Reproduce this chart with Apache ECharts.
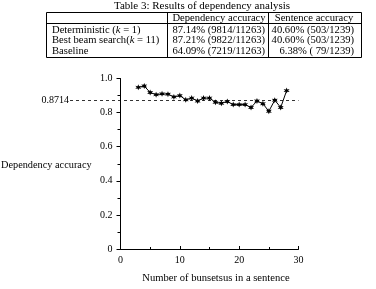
<!DOCTYPE html>
<html>
<head>
<meta charset="utf-8">
<script src="https://cdn.jsdelivr.net/npm/echarts@6/dist/echarts.min.js"></script>
<style>
  html, body { margin: 0; padding: 0; background: #fff; }
  #chart { width: 376px; height: 289px; }
</style>
</head>
<body>
<div id="chart"></div>
<script>
// table data
const tableTitle = "Table 3: Results of dependency analysis";
const tableHeader = ["", "Dependency accuracy", "Sentence accuracy"];
const methods = ["Deterministic ({i|k} = 1)", "Best beam search({i|k} = 11)", "Baseline"];
const depAccuracy = ["87.14% (9814/11263)", "87.21% (9822/11263)", "64.09% (7219/11263)"];
const sentAccuracy = ["40.60% (503/1239)", "40.60% (503/1239)", "6.38% ( 79/1239)"];

// plot data
const bunsetsu = [3, 4, 5, 6, 7, 8, 9, 10, 11, 12, 13, 14, 15, 16, 17, 18, 19, 20, 21, 22, 23, 24, 25, 26, 27, 28];
const accuracy = [0.948, 0.956, 0.918, 0.905, 0.91, 0.908, 0.892, 0.9, 0.875, 0.885, 0.868, 0.885, 0.885,
  0.86, 0.855, 0.865, 0.847, 0.847, 0.847, 0.83, 0.868, 0.852, 0.808, 0.873, 0.83, 0.929];
const overall = 0.8714;

const serif = "'Liberation Serif', 'DejaVu Serif', serif";

// small six point star for the markers
const starPath = (() => {
  let d = "";
  for (let i = 0; i < 12; i++) {
    const r = i % 2 === 0 ? 10 : 4.5;
    const a = Math.PI / 6 * i - Math.PI / 2;
    d += (i === 0 ? "M" : "L") + (r * Math.cos(a)).toFixed(2) + " " + (r * Math.sin(a)).toFixed(2);
  }
  return "path://" + d + "Z";
})();

// table geometry
const tL = 46.5, tR = 361.5, tT = 12.5, tB = 57.5, hdrY = 23.5;
const colX = [167.5, 268.5];
const rowY = [30, 40.7, 51.5];
const cellFont = "10.6px " + serif;

const graphic = [];
graphic.push({
  type: "text", x: 202, y: 6.5,
  style: { text: tableTitle, font: "11px " + serif, fill: "#000", align: "center", verticalAlign: "middle" }
});
graphic.push({
  type: "rect", shape: { x: tL, y: tT, width: tR - tL, height: tB - tT },
  style: { fill: "none", stroke: "#000", lineWidth: 1 }
});
graphic.push({
  type: "line", shape: { x1: tL, y1: hdrY, x2: tR, y2: hdrY },
  style: { stroke: "#000", lineWidth: 1 }
});
colX.forEach(x => {
  graphic.push({
    type: "line", shape: { x1: x, y1: tT, x2: x, y2: tB },
    style: { stroke: "#000", lineWidth: 1 }
  });
});
graphic.push({
  type: "text", x: 219, y: 18,
  style: { text: tableHeader[1], font: cellFont, fill: "#000", align: "center", verticalAlign: "middle" }
});
graphic.push({
  type: "text", x: 314, y: 18,
  style: { text: tableHeader[2], font: cellFont, fill: "#000", align: "center", verticalAlign: "middle" }
});
for (let i = 0; i < methods.length; i++) {
  graphic.push({
    type: "text", x: 52, y: rowY[i],
    style: {
      text: methods[i], font: cellFont, fill: "#000", verticalAlign: "middle",
      rich: { i: { fontStyle: "italic", fontSize: 10.6, fontFamily: serif } }
    }
  });
  graphic.push({
    type: "text", x: 265, y: rowY[i],
    style: { text: depAccuracy[i], font: cellFont, fill: "#000", align: "right", verticalAlign: "middle" }
  });
  graphic.push({
    type: "text", x: 354, y: rowY[i],
    style: { text: sentAccuracy[i], font: cellFont, fill: "#000", align: "right", verticalAlign: "middle" }
  });
}
graphic.push({
  type: "text", x: 1, y: 165,
  style: { text: "Dependency accuracy", font: "10.3px " + serif, fill: "#000", verticalAlign: "middle" }
});

const chart = echarts.init(document.getElementById("chart"), null, { renderer: "canvas" });

const option = {
  animation: false,
  backgroundColor: "#fff",
  textStyle: { fontFamily: serif, color: "#000" },
  grid: { left: 120.5, right: 77.5, top: 78.5, bottom: 32, containLabel: false },
  xAxis: {
    type: "value", min: 0, max: 30, interval: 10,
    name: "Number of bunsetsus in a sentence",
    nameLocation: "middle", nameGap: 24,
    nameTextStyle: { fontFamily: serif, fontSize: 10.6, color: "#000", padding: [0, 0, 0, 13] },
    axisLine: { show: true, lineStyle: { color: "#000", width: 1 } },
    axisTick: { show: true, inside: true, length: 3, lineStyle: { color: "#000" } },
    minorTick: { show: true, splitNumber: 2, length: 2, lineStyle: { color: "#000" } },
    splitLine: { show: false },
    axisLabel: { fontFamily: serif, fontSize: 10, color: "#000", margin: 6 }
  },
  yAxis: {
    type: "value", min: 0, max: 1, interval: 0.2,
    axisLine: { show: true, lineStyle: { color: "#000", width: 1 } },
    axisTick: { show: true, inside: false, length: 4, lineStyle: { color: "#000" } },
    minorTick: { show: true, splitNumber: 2, length: 3, lineStyle: { color: "#000" } },
    splitLine: { show: false },
    axisLabel: {
      fontFamily: serif, fontSize: 10, color: "#000", margin: 8,
      formatter: v => (v === 0 ? "0" : v.toFixed(1))
    }
  },
  graphic: graphic,
  series: [
    {
      type: "line",
      clip: false,
      data: bunsetsu.map((x, i) => [x, accuracy[i]]),
      symbol: starPath,
      symbolSize: 6,
      showSymbol: true,
      lineStyle: { color: "#000", width: 1 },
      itemStyle: { color: "#000" },
      markLine: {
        silent: true,
        symbol: "none",
        lineStyle: { color: "#000", width: 0.8, type: [3, 3] },
        label: {
          show: true, position: "start", distance: 1,
          formatter: () => overall.toFixed(4),
          fontFamily: serif, fontSize: 10, color: "#000"
        },
        data: [[{ x: 70, yAxis: overall }, { xAxis: 30, yAxis: overall }]]
      }
    }
  ]
};

chart.setOption(option);
</script>
</body>
</html>
